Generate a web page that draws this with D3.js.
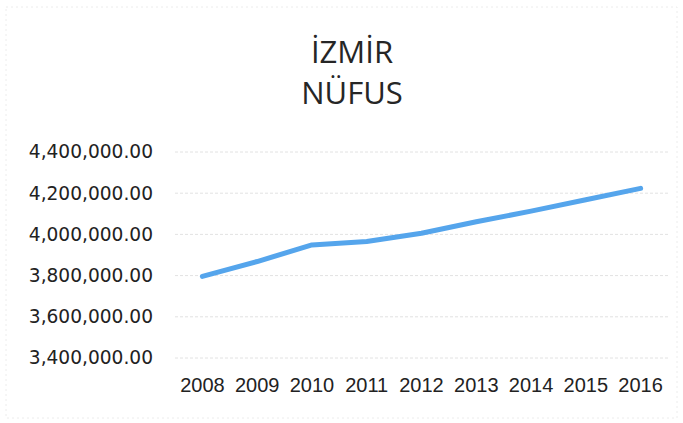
<!DOCTYPE html>
<head>
    <meta charset="utf-8">
    <script src="https://d3js.org/d3.v7.min.js"></script>
    <style>
        body { margin: 0; background: #fff; }
        .title { font-family: "Open Sans", sans-serif; font-size: 31px; fill: #262626; }
        .yaxis text { font-family: "DejaVu Sans", sans-serif; font-size: 18.6px; fill: #222; }
        .xaxis text { font-family: "Liberation Sans", sans-serif; font-size: 20px; fill: #222; }
        .grid line { stroke: #e2e2e2; stroke-width: 1px; stroke-dasharray: 3,2; }
    </style>
</head>
<body>
<div id="chart"></div>
<script>
    // data
    var years = ["2008", "2009", "2010", "2011", "2012", "2013", "2014", "2015", "2016"];
    var population = [3795978, 3868308, 3948848, 3965232, 4005459, 4061074, 4113072, 4168415, 4223545];
    var yTicks = [3400000, 3600000, 3800000, 4000000, 4200000, 4400000];
    var titleLines = ["İZMİR", "NÜFUS"];

    var width = 683, height = 423;
    var margin = { top: 152, right: 15, bottom: 65, left: 175 };

    var svg = d3.select("#chart").append("svg")
        .attr("width", width)
        .attr("height", height);

    // faint chart border
    svg.append("rect")
        .attr("x", 6).attr("y", 7)
        .attr("width", width - 12).attr("height", height - 12)
        .attr("fill", "none")
        .attr("stroke", "#ececec")
        .attr("stroke-dasharray", "2,3");

    var x = d3.scaleBand()
        .domain(years)
        .range([margin.left, width - margin.right]);

    var y = d3.scaleLinear()
        .domain([3400000, 4400000])
        .range([height - margin.bottom, margin.top]);

    // gridlines
    svg.append("g")
        .attr("class", "grid")
        .selectAll("line")
        .data(yTicks)
        .enter().append("line")
        .attr("x1", margin.left)
        .attr("x2", width - margin.right)
        .attr("y1", function (d) { return y(d); })
        .attr("y2", function (d) { return y(d); });

    // y axis labels
    var yAxis = d3.axisLeft(y)
        .tickValues(yTicks)
        .tickSize(0)
        .tickPadding(22)
        .tickFormat(d3.format(",.2f"));

    svg.append("g")
        .attr("class", "yaxis")
        .attr("transform", "translate(" + margin.left + ",0)")
        .call(yAxis)
        .call(function (g) { g.select(".domain").remove(); });

    // x axis labels
    var xAxis = d3.axisBottom(x)
        .tickSize(0)
        .tickPadding(20);

    svg.append("g")
        .attr("class", "xaxis")
        .attr("transform", "translate(0," + (height - margin.bottom) + ")")
        .call(xAxis)
        .call(function (g) { g.select(".domain").remove(); });

    // line
    var line = d3.line()
        .x(function (d, i) { return x(years[i]) + x.bandwidth() / 2; })
        .y(function (d) { return y(d); });

    svg.append("path")
        .datum(population)
        .attr("fill", "none")
        .attr("stroke", "#55a5ec")
        .attr("stroke-width", 5)
        .attr("stroke-linecap", "round")
        .attr("stroke-linejoin", "round")
        .attr("d", line);

    // title
    svg.append("g")
        .selectAll("text")
        .data(titleLines)
        .enter().append("text")
        .attr("class", "title")
        .attr("x", 352)
        .attr("y", function (d, i) { return 63 + i * 41; })
        .attr("text-anchor", "middle")
        .text(function (d) { return d; });
</script>
</body>
